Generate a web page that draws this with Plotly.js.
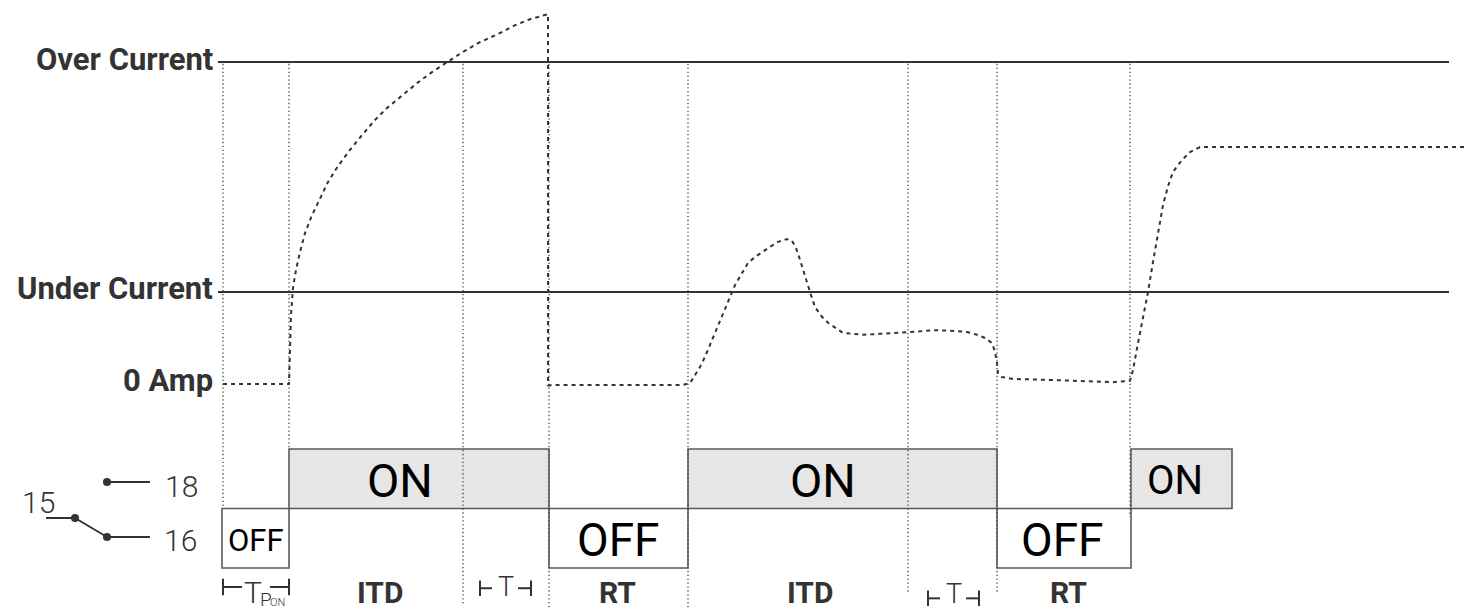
<!DOCTYPE html>
<html><head><meta charset="utf-8">
<script src="https://cdn.plot.ly/plotly-3.0.1.min.js"></script>
<style>html,body{margin:0;padding:0;background:#fff}#chart{width:1479px;height:612px}</style>
</head><body><div id="chart"></div><script>
// ---- current thresholds (current units, 0 Amp = 0) ----
const levelNames = ['Over Current', 'Under Current', '0 Amp'];
const levelValues = [7.0, 2.0, 0.0];
const thresholdSpan = [-0.5, 122.6];

// ---- phase boundaries (time units) ----
const phaseBounds = [0, 6.6, 24.0, 32.6, 46.5, 68.5, 77.4, 90.7];
const phaseBoundBottoms = [1.0, 2.0, -0.62, -0.67, -0.67, -0.40, -0.40, 0.86]; // relay-axis units

// ---- measured current ----
const curveTime = [0, 6.6, 6.7, 6.8, 7.0, 7.3, 7.7, 8.2, 8.9, 9.7, 10.5, 11.5, 12.7, 13.9, 15.2, 16.4, 17.9, 19.4, 20.9, 22.4, 24.0, 25.5, 27.7, 29.2, 30.7, 32.5,
  32.5, 33.7, 39.7, 46.0, 46.7, 47.2, 47.7, 48.2, 48.7, 49.2, 49.7, 50.2, 50.7, 51.2, 51.9, 52.5, 53.2, 53.9, 54.7, 55.5, 56.4, 56.9, 57.3, 57.7, 58.2, 58.7, 59.2, 59.9, 60.5, 61.2, 62.0, 63.0, 64.0, 65.7, 67.4, 68.5, 69.7, 71.4, 73.4, 74.4, 75.4, 76.2, 76.9, 77.2, 77.4, 77.5, 77.9, 79.0, 82.4, 85.7, 89.0, 90.7,
  91.0, 91.5, 92.0, 92.5, 93.0, 93.5, 94.0, 94.5, 95.0, 95.9, 96.7, 97.7, 124.4];
const curveAmps = [0, 0, 0.74, 1.5, 2.09, 2.48, 2.87, 3.28, 3.67, 4.04, 4.39, 4.74, 5.09, 5.41, 5.74, 6.0, 6.28, 6.54, 6.78, 7.0, 7.22, 7.41, 7.63, 7.8, 7.93, 8.04,
  -0.03, -0.02, -0.02, -0.02, 0.02, 0.2, 0.37, 0.59, 0.85, 1.11, 1.39, 1.67, 1.93, 2.15, 2.41, 2.63, 2.76, 2.87, 2.98, 3.09, 3.15, 3.11, 2.96, 2.70, 2.33, 2.0, 1.67, 1.46, 1.33, 1.22, 1.11, 1.09, 1.07, 1.09, 1.11, 1.13, 1.15, 1.17, 1.15, 1.13, 1.07, 1.0, 0.89, 0.70, 0.46, 0.24, 0.15, 0.11, 0.09, 0.07, 0.04, 0.07,
  0.30, 0.89, 1.43, 2.0, 2.65, 3.28, 3.89, 4.30, 4.61, 4.87, 5.04, 5.15, 5.15];

// ---- relay 15-18 / 15-16 state ----
const relayStart = [-0.1, 6.6, 32.6, 46.5, 77.4, 90.8];
const relayEnd = [6.6, 32.6, 46.5, 77.4, 90.8, 100.9];
const relayState = ['OFF', 'ON', 'OFF', 'ON', 'OFF', 'ON'];
const relayLabelTime = [3.25, 17.65, 39.55, 60.0, 83.95, 95.2];
const relayLabelSize = [31, 47, 46, 47, 46, 40];

// ---- phase labels ----
const phaseLabels = ['ITD', 'RT', 'ITD', 'RT'];
const phaseLabelTime = [15.7, 39.4, 58.7, 84.5];
const timerLabelTime = [28.3, 73.1];
const timerLabelRow = [-0.32, -0.49];
const contactNames = ['15', '18', '16'];

// ---- axes ----
const xRange = [-22.3, 125.6];
const yRange = [-4.957, 8.348];
const y2Range = [-0.7395, 9.546];
const yToPaper = v => (v - yRange[0]) / (yRange[1] - yRange[0]);
const y2ToPaper = v => (v - y2Range[0]) / (y2Range[1] - y2Range[0]);
// decoration placement helpers (pixel -> axis units)
const tx = px => (px - 223) / 10;
const vy = py => (568 - py) / 59.5;

const FONT = 'Roboto, "Liberation Sans", sans-serif';
const shapes = [];
const annotations = [];

// relay boxes
relayState.forEach((s, i) => {
  const on = s === 'ON';
  shapes.push({type: 'rect', xref: 'x', yref: 'y2', x0: relayStart[i], x1: relayEnd[i],
    y0: on ? 1 : 0, y1: on ? 2 : 1, fillcolor: on ? '#e6e6e6' : '#ffffff',
    line: {color: '#5a5a5a', width: 1.6}, layer: 'below'});
  annotations.push({xref: 'x', yref: 'y2', x: relayLabelTime[i], y: on ? 1.5 : 0.5, text: s,
    showarrow: false, xanchor: 'center', yanchor: 'middle', yshift: -2,
    font: {family: FONT, size: relayLabelSize[i], color: '#000'}});
});

// threshold lines + labels
levelNames.forEach((n, i) => {
  if (levelValues[i] !== 0) {
    shapes.push({type: 'line', xref: 'x', yref: 'y', x0: thresholdSpan[0], x1: thresholdSpan[1],
      y0: levelValues[i], y1: levelValues[i], line: {color: '#333', width: 2}});
  }
  annotations.push({xref: 'x', yref: 'y', x: -0.8, y: levelValues[i], text: '<b>' + n + '</b>',
    showarrow: false, xanchor: 'right', yanchor: 'middle', yshift: 3,
    font: {family: FONT, size: 31, color: '#333'}});
});

// dotted phase boundaries
phaseBounds.forEach((t, i) => {
  shapes.push({type: 'line', xref: 'x', yref: 'paper', x0: t, x1: t,
    y0: yToPaper(levelValues[0]) - 0.003, y1: y2ToPaper(phaseBoundBottoms[i]),
    line: {color: '#444', width: 1.3, dash: '1.3px,2.6px'}});
});

// phase labels
phaseLabels.forEach((l, i) => {
  annotations.push({xref: 'x', yref: 'paper', x: phaseLabelTime[i], y: 0.001, text: '<b>' + l + '</b>',
    showarrow: false, xanchor: 'center', yanchor: 'bottom', borderpad: 0,
    font: {family: FONT, size: 30, color: '#333'}});
});

// timer brackets |-T-|
function bracket(xl, xr, stubL, stubR, row, h) {
  const c = '#333', w = 2;
  shapes.push({type: 'line', xref: 'x', yref: 'y2', x0: xl, x1: xl, y0: row + h, y1: row - h, line: {color: c, width: w}});
  shapes.push({type: 'line', xref: 'x', yref: 'y2', x0: xl, x1: stubL, y0: row, y1: row, line: {color: c, width: w}});
  shapes.push({type: 'line', xref: 'x', yref: 'y2', x0: stubR, x1: xr, y0: row, y1: row, line: {color: c, width: w}});
  shapes.push({type: 'line', xref: 'x', yref: 'y2', x0: xr, x1: xr, y0: row + h, y1: row - h, line: {color: c, width: w}});
}
timerLabelTime.forEach((t, i) => {
  bracket(t - 2.6, t + 2.5, t - 1.4, t + 1.2, timerLabelRow[i] - 0.02, 0.13);
  annotations.push({xref: 'x', yref: 'y2', x: t, y: Math.max(timerLabelRow[i] - 0.285, -0.725), text: 'T', showarrow: false,
    xanchor: 'center', yanchor: 'bottom', borderpad: 0, font: {family: FONT, size: 27, color: '#333', weight: 300}});
});
// T_P_ON bracket over the power-on phase
bracket(phaseBounds[0], phaseBounds[1], tx(242), tx(270), vy(587), 0.14);
annotations.push({xref: 'x', yref: 'paper', x: tx(252.5), y: 0.002, text: 'T', showarrow: false,
  xanchor: 'center', yanchor: 'bottom', borderpad: 0, font: {family: FONT, size: 30, color: '#333', weight: 300}});
annotations.push({xref: 'x', yref: 'y2', x: tx(266), y: vy(598.5), text: 'P', showarrow: false,
  xanchor: 'center', yanchor: 'middle', yshift: -1, font: {family: FONT, size: 19, color: '#333', weight: 300}});
annotations.push({xref: 'x', yref: 'paper', x: tx(277.5), y: 0.003, text: 'ON', showarrow: false,
  xanchor: 'center', yanchor: 'bottom', borderpad: 0, font: {family: FONT, size: 11, color: '#333', weight: 300}});

// contact symbol 15 / 18 / 16
const swc = '#333';
shapes.push({type: 'line', xref: 'x', yref: 'y2', x0: tx(46), x1: tx(75), y0: vy(518), y1: vy(518), line: {color: swc, width: 2}});
shapes.push({type: 'line', xref: 'x', yref: 'y2', x0: tx(75), x1: tx(107), y0: vy(518), y1: vy(537), line: {color: swc, width: 2}});
shapes.push({type: 'line', xref: 'x', yref: 'y2', x0: tx(107), x1: tx(150), y0: vy(537), y1: vy(537), line: {color: swc, width: 2}});
shapes.push({type: 'line', xref: 'x', yref: 'y2', x0: tx(107), x1: tx(150), y0: vy(482), y1: vy(482), line: {color: swc, width: 2}});
const contactX = [tx(38), tx(181), tx(180)];
const contactY = [vy(500), vy(484), vy(538)];
contactNames.forEach((n, i) => {
  annotations.push({xref: 'x', yref: 'y2', x: contactX[i], y: contactY[i], text: n, showarrow: false,
    xanchor: 'center', yanchor: 'middle', yshift: -2, font: {family: FONT, size: 30, color: '#333', weight: 300}});
});

const traces = [
  {x: curveTime, y: curveAmps, type: 'scatter', mode: 'lines', xaxis: 'x', yaxis: 'y',
   line: {color: '#333', width: 2, dash: '4px,4px'}, hoverinfo: 'skip', showlegend: false},
  {x: [tx(75), tx(107), tx(107)], y: [vy(518), vy(537), vy(482)], type: 'scatter', mode: 'markers',
   xaxis: 'x', yaxis: 'y2', marker: {color: '#333', size: 8}, hoverinfo: 'skip', showlegend: false, cliponaxis: false}
];

const layout = {
  width: 1479, height: 612, margin: {l: 0, r: 0, t: 0, b: 0},
  paper_bgcolor: '#fff', plot_bgcolor: '#fff', showlegend: false,
  xaxis: {range: xRange, visible: false, fixedrange: true},
  yaxis: {range: yRange, visible: false, fixedrange: true},
  yaxis2: {range: y2Range, visible: false, overlaying: 'y', fixedrange: true},
  shapes: shapes, annotations: annotations
};
Plotly.newPlot('chart', traces, layout, {displayModeBar: false, staticPlot: true});
</script></body></html>
